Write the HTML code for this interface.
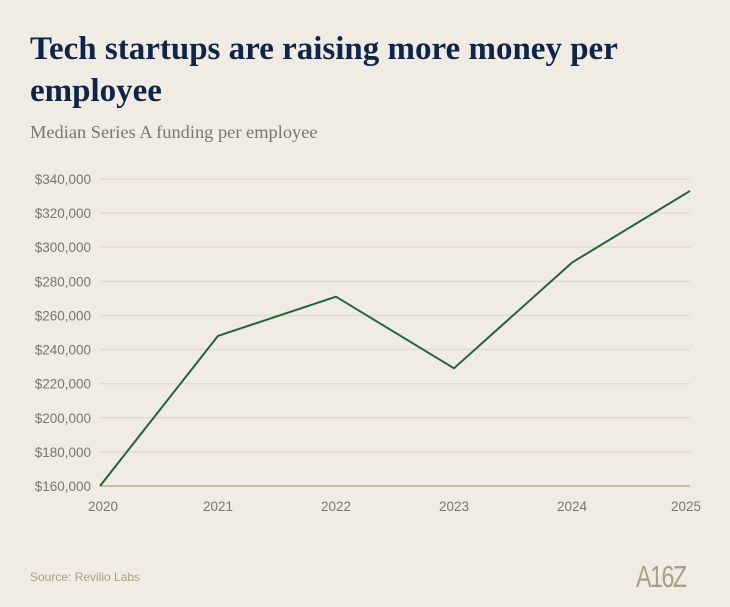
<!DOCTYPE html>
<html><head><meta charset="utf-8"><style>
body{margin:0;background:#f0ece4;width:730px;height:607px;overflow:hidden;position:relative;font-family:"Liberation Sans",sans-serif}
.title{position:absolute;left:30px;top:28px;width:690px;font-family:"Liberation Serif",serif;font-weight:bold;font-size:33px;line-height:42px;color:#0f2547;margin:0}
.sub{position:absolute;left:30px;top:122px;font-family:"Liberation Serif",serif;font-size:18.4px;color:#7a7570}
.src{position:absolute;left:30px;top:570px;font-size:12px;color:#a99e88}
.logo{position:absolute;left:636px;top:559px;font-family:"Liberation Sans",sans-serif;font-size:31px;color:#a99e88;letter-spacing:-2px;transform:scaleX(0.75);transform-origin:left}
svg{position:absolute;left:0;top:0}
</style></head><body>
<h1 class="title">Tech startups are raising more money per employee</h1>
<div class="sub">Median Series A funding per employee</div>
<svg id="c" width="730" height="607"></svg>
<div class="src">Source: Revilio Labs</div>
<div class="logo">A16Z</div>
<script>
const years=["2020","2021","2022","2023","2024","2025"];
const values=[160000,248000,271000,229000,291000,333000];
const yTicks=[160000,180000,200000,220000,240000,260000,280000,300000,320000,340000];
const NS="http://www.w3.org/2000/svg";
const svg=document.getElementById('c');
const x0=100,x1=690,yTop=179,yBot=486,vMin=160000,vMax=340000;
function xs(i){return x0+(x1-x0)*i/(years.length-1);}
function ys(v){return yBot-(v-vMin)/(vMax-vMin)*(yBot-yTop);}
function mk(t,a){const e=document.createElementNS(NS,t);for(const k in a)e.setAttribute(k,a[k]);svg.appendChild(e);return e;}
yTicks.forEach(v=>{
  const g=mk('line',{x1:x0,x2:x1,y1:ys(v),y2:ys(v),stroke:v===vMin?'#c5bca9':'#e3dccd','stroke-width':v===vMin?2:1.5});
  
  
  const t=mk('text',{x:91,y:ys(v)+5,'text-anchor':'end','font-size':13.5,fill:'#7a7570','font-family':'Liberation Sans, sans-serif'});
  t.textContent='$'+v.toLocaleString('en-US');
  
  
});
years.forEach((y,i)=>{
  const t=mk('text',{x:xs(i)+(i===0?3:(i===years.length-1?-4:0)),y:511,'text-anchor':'middle','font-size':13.5,fill:'#7a7570','font-family':'Liberation Sans, sans-serif'});
  t.textContent=y;
  
  
});
const p=mk('polyline',{points:values.map((v,i)=>xs(i)+','+ys(v)).join(' '),fill:'none',stroke:'#23633a','stroke-width':2,'stroke-linejoin':'round'});


</script>
</body></html>
